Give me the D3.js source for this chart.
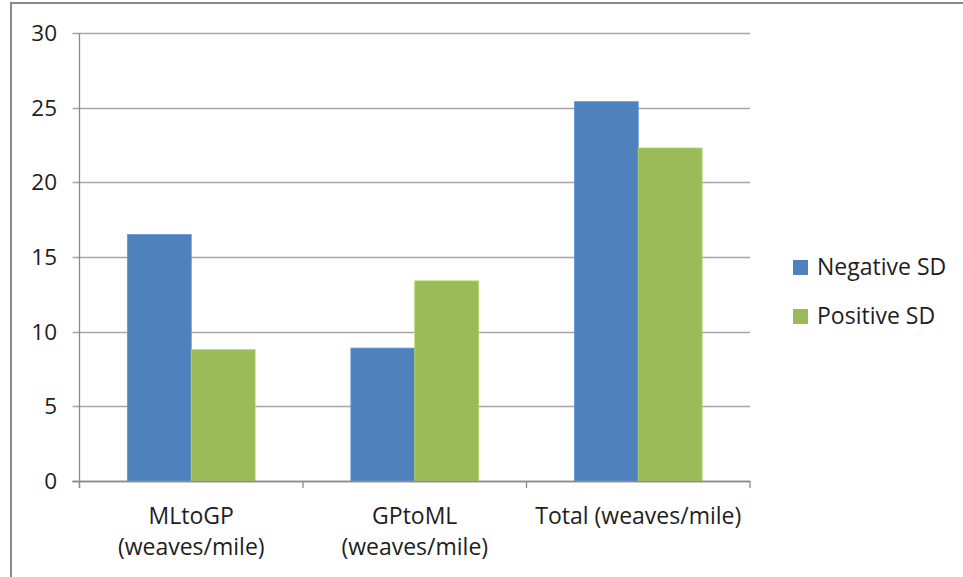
<!DOCTYPE html>
<html>
<head>
<meta charset="utf-8">
<script src="https://cdn.jsdelivr.net/npm/d3@7"></script>
<style>
  body { margin: 0; background: #fff; }
  text { font-family: "Open Sans", sans-serif; fill: #1e1e1e; }
</style>
</head>
<body>
<div id="chart"></div>
<script>
// data
var categories = ["MLtoGP (weaves/mile)", "GPtoML (weaves/mile)", "Total (weaves/mile)"];
var categoryLines = [["MLtoGP", "(weaves/mile)"], ["GPtoML", "(weaves/mile)"], ["Total (weaves/mile)"]];
var seriesNames = ["Negative SD", "Positive SD"];
var negativeSD = [16.5, 8.9, 25.4];
var positiveSD = [8.8, 13.4, 22.3];
var yTicks = [0, 5, 10, 15, 20, 25, 30];
var colors = ["#4f81bd", "#9bbb59"];

var width = 963, height = 577;
var plotLeft = 79.5, plotRight = 750, plotTop = 33, plotBottom = 481;

var svg = d3.select("#chart").append("svg")
    .attr("width", width)
    .attr("height", height);

// outer chart frame (runs past the right/bottom edge)
svg.append("rect")
    .attr("x", 11)
    .attr("y", 3)
    .attr("width", 980)
    .attr("height", 600)
    .attr("fill", "none")
    .attr("stroke", "#8a8a8a")
    .attr("stroke-width", 2);

var y = d3.scaleLinear().domain([0, 30]).range([plotBottom, plotTop]);
var x0 = d3.scaleBand().domain(categories).range([plotLeft, plotRight]).padding(0);
// gap width 150% like excel
var x1 = d3.scaleBand().domain(seriesNames).range([0, x0.bandwidth()])
    .paddingInner(0).paddingOuter(0.75);

// gridlines + left ticks
svg.selectAll("line.grid")
    .data(yTicks)
    .enter()
    .append("line")
    .attr("class", "grid")
    .attr("x1", plotLeft - 7)
    .attr("x2", plotRight)
    .attr("y1", function(d) { return Math.round(y(d)) + 0.5; })
    .attr("y2", function(d) { return Math.round(y(d)) + 0.5; })
    .attr("stroke", function(d) { return d === 0 ? "#8a8a8a" : "#a6a6a6"; })
    .attr("stroke-width", 1.3);

svg.selectAll("text.ylab")
    .data(yTicks)
    .enter()
    .append("text")
    .attr("class", "ylab")
    .attr("x", 57)
    .attr("y", function(d) { return y(d); })
    .attr("dy", "0.36em")
    .attr("text-anchor", "end")
    .attr("font-size", 22.5)
    .text(function(d) { return d; });

// bars
var rows = categories.map(function(c, i) {
  return { cat: c, values: [negativeSD[i], positiveSD[i]] };
});

var groups = svg.selectAll("g.cat")
    .data(rows)
    .enter()
    .append("g")
    .attr("class", "cat")
    .attr("transform", function(d) { return "translate(" + x0(d.cat) + ",0)"; });

groups.selectAll("rect")
    .data(function(d) { return d.values.map(function(v, j) { return { s: seriesNames[j], v: v, j: j }; }); })
    .enter()
    .append("rect")
    .attr("x", function(d) { return x1(d.s); })
    .attr("width", x1.bandwidth())
    .attr("y", function(d) { return y(d.v); })
    .attr("height", function(d) { return plotBottom - y(d.v); })
    .attr("fill", function(d) { return colors[d.j]; })
    .attr("stroke", function(d) { return d3.color(colors[d.j]).brighter(0.4); })
    .attr("stroke-width", 0.8);

// axes lines
svg.append("line")
    .attr("x1", plotLeft).attr("x2", plotLeft)
    .attr("y1", plotTop).attr("y2", plotBottom + 7)
    .attr("stroke", "#8a8a8a").attr("stroke-width", 1.3);

svg.append("line")
    .attr("x1", plotLeft - 7).attr("x2", plotRight)
    .attr("y1", plotBottom + 0.5).attr("y2", plotBottom + 0.5)
    .attr("stroke", "#8a8a8a").attr("stroke-width", 1.3);

var bounds = categories.map(function(c) { return x0(c); }).concat([plotRight]);
svg.selectAll("line.xtick")
    .data(bounds)
    .enter()
    .append("line")
    .attr("class", "xtick")
    .attr("x1", function(d) { return d; })
    .attr("x2", function(d) { return d; })
    .attr("y1", plotBottom)
    .attr("y2", plotBottom + 7)
    .attr("stroke", "#8a8a8a").attr("stroke-width", 1.3);

// category labels
var labs = svg.selectAll("text.xlab")
    .data(categories)
    .enter()
    .append("text")
    .attr("class", "xlab")
    .attr("text-anchor", "middle")
    .attr("font-size", 23)
    .attr("x", function(d) { return x0(d) + x0.bandwidth() / 2; })
    .attr("y", 524);

labs.selectAll("tspan")
    .data(function(d, i) { return categoryLines[i]; })
    .enter()
    .append("tspan")
    .attr("x", function() { var c = d3.select(this.parentNode).datum(); return x0(c) + x0.bandwidth() / 2; })
    .attr("dy", function(d, i) { return i === 0 ? 0 : 31; })
    .text(function(d) { return d; });

// legend
var legend = svg.selectAll("g.legend")
    .data(seriesNames)
    .enter()
    .append("g")
    .attr("class", "legend")
    .attr("transform", function(d, i) { return "translate(793," + (260 + i * 49) + ")"; });

legend.append("rect")
    .attr("width", 15)
    .attr("height", 15)
    .attr("fill", function(d, i) { return colors[i]; });

legend.append("text")
    .attr("x", 24)
    .attr("y", 15)
    .attr("font-size", 23)
    .text(function(d) { return d; });
</script>
</body>
</html>
